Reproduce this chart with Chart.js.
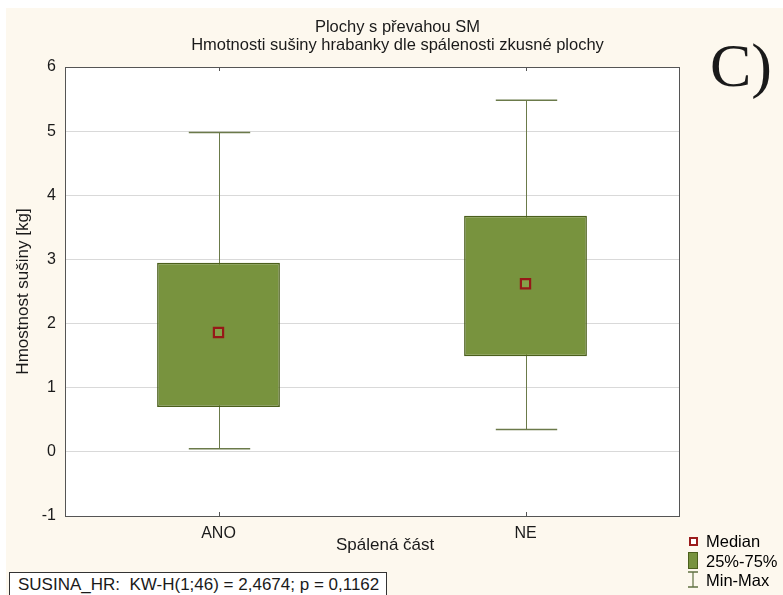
<!DOCTYPE html>
<html>
<head>
<meta charset="utf-8">
<script src="https://cdn.jsdelivr.net/npm/chart.js@4/dist/chart.umd.min.js"></script>
<style>
    body { margin: 0; background: #ffffff; font-family: "Liberation Sans", Arial, sans-serif; }
    #page { position: relative; width: 783px; height: 595px; overflow: hidden; }
    #cream { position: absolute; left: 6px; top: 8px; right: 0; bottom: 0; background: #fdf8ee; }
    #chart { position: absolute; left: 0; top: 0; }
    .txt { position: absolute; color: #1a1a1a; white-space: nowrap; }
    #title { left: 0; width: 795px; top: 17px; text-align: center; font-size: 16.5px; line-height: 18px; }
    #panel { left: 710px; top: 30px; font-family: "Liberation Serif", "Times New Roman", serif; font-size: 62px; line-height: 70px; }
    #xtitle { left: 336px; top: 535px; font-size: 17px; line-height: 20px; }
    #stat { left: 9px; top: 572px; width: 376px; height: 30px; border: 1px solid #333; background: #ffffff; }
    #stat span { position: absolute; left: 8px; top: 2px; font-size: 17px; line-height: 20px; }
    .leg { position: absolute; left: 706px; font-size: 16.5px; line-height: 18px; }
    .icon { position: absolute; }
</style>
</head>
<body>
<div id="page">
    <div id="cream"></div>
    <canvas id="chart" width="783" height="595"></canvas>
    <div class="txt" id="title">Plochy s převahou SM<br>Hmotnosti sušiny hrabanky dle spálenosti zkusné plochy</div>
    <div class="txt" id="panel">C)</div>
    <div class="txt" id="xtitle">Spálená část</div>
    <div class="txt" id="stat"><span>SUSINA_HR:&nbsp; KW-H(1;46) = 2,4674; p = 0,1162</span></div>

    <div class="icon" style="left:689px; top:537px; width:5px; height:5px; border:2px solid #9b1c1c; background:#fff;"></div>
    <div class="leg" style="top:532px;">Median</div>
    <div class="icon" style="left:688px; top:552px; width:8px; height:15px; border:1px solid #4b5f1c; background:#78933e;"></div>
    <div class="leg" style="top:552px;">25%-75%</div>
    <svg class="icon" style="left:687px; top:571px;" width="12" height="18">
        <line x1="1" y1="1" x2="11" y2="1" stroke="#5f7040" stroke-width="1.5"/>
        <line x1="6" y1="1" x2="6" y2="16" stroke="#5f7040" stroke-width="1.2"/>
        <line x1="1" y1="16" x2="11" y2="16" stroke="#5f7040" stroke-width="1.5"/>
    </svg>
    <div class="leg" style="top:571px;">Min-Max</div>
</div>

<script>
    // ----------------------------------------
    // Data
    // ----------------------------------------

    const categories = ["ANO", "NE"];
    const minValues = [0.05, 0.35];
    const q1Values = [0.70, 1.49];
    const medianValues = [1.86, 2.62];
    const q3Values = [2.95, 3.68];
    const maxValues = [4.98, 5.48];

    const boxFill = "#78933e";
    const boxBorder = "#4b5f1c";
    const whiskerColor = "#6b7a4a";

    Chart.defaults.font.family = "'Liberation Sans', Arial, sans-serif";
    Chart.defaults.color = "#1a1a1a";

    // white plot area, border and small category ticks
    const plotFrame = {
        id: "plotFrame",
        beforeDraw(chart) {
            const { ctx, chartArea: a } = chart;
            ctx.save();
            ctx.fillStyle = "#ffffff";
            ctx.fillRect(a.left, a.top, a.right - a.left, a.bottom - a.top);
            ctx.restore();
        },
        afterDraw(chart) {
            const { ctx, chartArea: a } = chart;
            const x = chart.scales.x;
            ctx.save();
            ctx.strokeStyle = "#555555";
            ctx.lineWidth = 1;
            ctx.strokeRect(a.left + 0.5, a.top + 0.5, a.right - a.left, a.bottom - a.top);
            categories.forEach((c, i) => {
                const px = Math.round(x.getPixelForValue(i)) + 0.5;
                ctx.beginPath();
                ctx.moveTo(px, a.top);
                ctx.lineTo(px, a.top + 4);
                ctx.moveTo(px, a.bottom);
                ctx.lineTo(px, a.bottom - 4);
                ctx.stroke();
            });
            ctx.restore();
        }
    };

    // whiskers and caps, drawn under the boxes
    const whiskers = {
        id: "whiskers",
        beforeDatasetsDraw(chart) {
            const { ctx } = chart;
            const x = chart.scales.x;
            const y = chart.scales.y;
            const capHalf = (x.getPixelForValue(1) - x.getPixelForValue(0)) * 0.1;
            ctx.save();
            ctx.strokeStyle = whiskerColor;
            categories.forEach((c, i) => {
                const px = Math.round(x.getPixelForValue(i)) + 0.5;
                const yMin = y.getPixelForValue(minValues[i]);
                const yMax = y.getPixelForValue(maxValues[i]);
                ctx.lineWidth = 1;
                ctx.beginPath();
                ctx.moveTo(px, yMin);
                ctx.lineTo(px, yMax);
                ctx.stroke();
                ctx.lineWidth = 1.5;
                ctx.beginPath();
                ctx.moveTo(px - capHalf, yMin);
                ctx.lineTo(px + capHalf, yMin);
                ctx.moveTo(px - capHalf, yMax);
                ctx.lineTo(px + capHalf, yMax);
                ctx.stroke();
            });
            ctx.restore();
        }
    };

    new Chart(document.getElementById("chart"), {
        data: {
            labels: categories,
            datasets: [
                {
                    type: "line",
                    label: "Median",
                    data: medianValues,
                    showLine: false,
                    pointStyle: "rect",
                    pointRadius: 6.5,
                    pointBorderWidth: 2.2,
                    pointBorderColor: "#961818",
                    pointBackgroundColor: "#86a04a",
                    order: 0
                },
                {
                    type: "bar",
                    label: "25%-75%",
                    data: categories.map((c, i) => [q1Values[i], q3Values[i]]),
                    backgroundColor: boxFill,
                    borderColor: boxBorder,
                    borderWidth: 1.5,
                    borderSkipped: false,
                    barPercentage: 0.4,
                    categoryPercentage: 1,
                    order: 1
                }
            ]
        },
        options: {
            responsive: false,
            devicePixelRatio: 1,
            animation: false,
            events: [],
            layout: { padding: { top: 67, right: 104, bottom: 0, left: 0 } },
            plugins: {
                legend: { display: false },
                title: { display: false },
                tooltip: { enabled: false }
            },
            scales: {
                x: {
                    type: "category",
                    offset: true,
                    grid: { display: false, drawTicks: false },
                    border: { display: false },
                    ticks: { font: { size: 16 }, color: "#1a1a1a", padding: 8 },
                    afterFit(scale) { scale.height = 79; }
                },
                y: {
                    min: -1,
                    max: 6,
                    ticks: { stepSize: 1, font: { size: 16 }, color: "#1a1a1a", padding: 9 },
                    grid: { color: "#d9d9d9", drawTicks: false },
                    border: { display: false },
                    title: {
                        display: true,
                        text: "Hmostnost sušiny [kg]",
                        font: { size: 17 },
                        color: "#1a1a1a",
                        padding: { top: 13 }
                    },
                    afterFit(scale) { scale.width = 65; }
                }
            }
        },
        plugins: [plotFrame, whiskers]
    });
</script>
</body>
</html>
